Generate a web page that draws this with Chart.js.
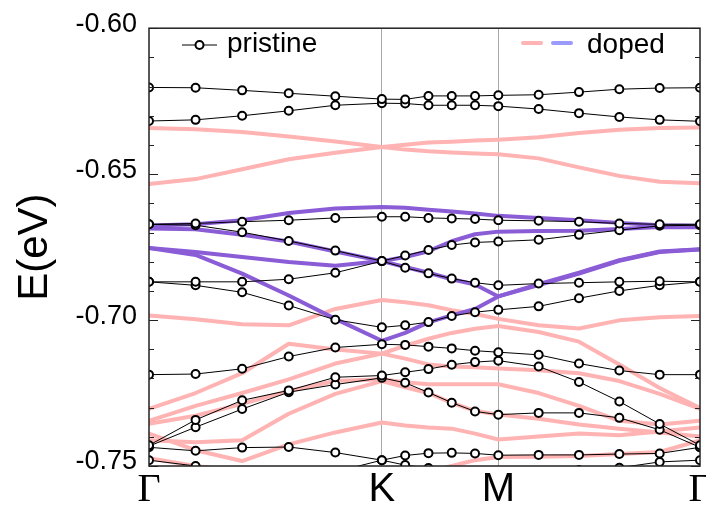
<!doctype html>
<html lang="en">
<head>
<meta charset="utf-8">
<title>Band structure: pristine vs doped</title>
<script src="https://cdn.jsdelivr.net/npm/chart.js@4.4.1/dist/chart.umd.min.js"></script>
<style>
    html, body { margin: 0; padding: 0; background: #fff; }
    .wrap { width: 706px; height: 510px; }
</style>
</head>
<body>
<div class="wrap"><canvas id="bands" width="706" height="510"></canvas></div>
<script>
    // k path Γ-K-M-Γ as path length (K = 4/3, M = 2, Γ = 2 + 2/√3)
    const kLabels = ['Γ', 'K', 'M', 'Γ'];
    const kTicks = [0, 1.3333, 2.0, 3.1547];
    const kPoints = [0, 0.2667, 0.5333, 0.8, 1.0667, 1.3333, 1.4667, 1.6, 1.7333, 1.8667, 2.0, 2.2309, 2.4619, 2.6928, 2.9238, 3.1547];

    // pristine bands (eV), one value per k point
    const pristine1 = [-0.6203, -0.6204, -0.6213, -0.6223, -0.6233, -0.6243, -0.6244, -0.6232, -0.6232, -0.6232, -0.6230, -0.6228, -0.6219, -0.6209, -0.6205, -0.6204];
    const pristine2 = [-0.6318, -0.6314, -0.6300, -0.6283, -0.6264, -0.6257, -0.6258, -0.6264, -0.6264, -0.6264, -0.6267, -0.6277, -0.6291, -0.6304, -0.6314, -0.6319];
    const pristine3 = [-0.6672, -0.6669, -0.6663, -0.6658, -0.6650, -0.6646, -0.6646, -0.6650, -0.6652, -0.6654, -0.6658, -0.6660, -0.6663, -0.6669, -0.6672, -0.6672];
    const pristine4 = [-0.6672, -0.6675, -0.6699, -0.6729, -0.6762, -0.6798, -0.6779, -0.6760, -0.6743, -0.6734, -0.6731, -0.6725, -0.6708, -0.6692, -0.6677, -0.6675];
    const pristine5 = [-0.6869, -0.6869, -0.6869, -0.6860, -0.6838, -0.6798, -0.6821, -0.6840, -0.6858, -0.6872, -0.6881, -0.6875, -0.6872, -0.6869, -0.6867, -0.6869];
    const pristine6 = [-0.6869, -0.6881, -0.6905, -0.6950, -0.6999, -0.7025, -0.7018, -0.7007, -0.6986, -0.6973, -0.6965, -0.6953, -0.6925, -0.6900, -0.6881, -0.6869];
    const pristine7 = [-0.7187, -0.7185, -0.7167, -0.7125, -0.7094, -0.7083, -0.7085, -0.7091, -0.7097, -0.7105, -0.7110, -0.7119, -0.7149, -0.7173, -0.7187, -0.7187];
    const pristine8 = [-0.7429, -0.7342, -0.7275, -0.7241, -0.7196, -0.7190, -0.7179, -0.7168, -0.7153, -0.7144, -0.7139, -0.7159, -0.7212, -0.7279, -0.7356, -0.7429];
    const pristine9 = [-0.7432, -0.7367, -0.7305, -0.7247, -0.7221, -0.7198, -0.7215, -0.7248, -0.7283, -0.7313, -0.7324, -0.7318, -0.7318, -0.7335, -0.7376, -0.7436];
    const pristine10 = [-0.7436, -0.7448, -0.7437, -0.7435, -0.7454, -0.7480, -0.7464, -0.7456, -0.7455, -0.7457, -0.7463, -0.7462, -0.7462, -0.7459, -0.7457, -0.7436];
    const pristine11 = [-0.7480, -0.7500, -0.7541, -0.7554, -0.7520, -0.7480, -0.7497, -0.7507, -0.7520, -0.7534, -0.7541, -0.7527, -0.7514, -0.7506, -0.7486, -0.7480];

    // doped bands, spin down (purple where they lie over the spin-up ones)
    const dopedDn1 = [-0.6676, -0.6672, -0.6658, -0.6633, -0.6618, -0.6613, -0.6615, -0.6622, -0.6628, -0.6635, -0.6643, -0.6650, -0.6658, -0.6667, -0.6675, -0.6677];
    const dopedDn2 = [-0.6686, -0.6689, -0.6708, -0.6731, -0.6765, -0.6798, -0.6784, -0.6764, -0.6730, -0.6706, -0.6697, -0.6695, -0.6694, -0.6688, -0.6681, -0.6682];
    const dopedDn3 = [-0.6753, -0.6767, -0.6784, -0.6801, -0.6814, -0.6798, -0.6818, -0.6838, -0.6860, -0.6878, -0.6919, -0.6877, -0.6838, -0.6795, -0.6765, -0.6757];
    const dopedDn4 = [-0.6753, -0.6777, -0.6841, -0.6916, -0.6996, -0.7071, -0.7044, -0.7008, -0.6984, -0.6962, -0.6919, -0.6880, -0.6841, -0.6797, -0.6767, -0.6758];

    // doped bands, spin up (pink)
    const dopedUp1 = [-0.6342, -0.6346, -0.6356, -0.6371, -0.6388, -0.6407, -0.6399, -0.6392, -0.6389, -0.6385, -0.6382, -0.6374, -0.6359, -0.6348, -0.6342, -0.6340];
    const dopedUp2 = [-0.6534, -0.6517, -0.6483, -0.6449, -0.6427, -0.6407, -0.6416, -0.6422, -0.6426, -0.6429, -0.6432, -0.6446, -0.6477, -0.6506, -0.6526, -0.6531];
    const dopedUp3 = [-0.6984, -0.6997, -0.7014, -0.7018, -0.6962, -0.6931, -0.6939, -0.6949, -0.6966, -0.6979, -0.6996, -0.7018, -0.7029, -0.7001, -0.6990, -0.6986];
    const dopedUp4 = [-0.7304, -0.7250, -0.7182, -0.7081, -0.7101, -0.7115, -0.7132, -0.7152, -0.7159, -0.7162, -0.7166, -0.7172, -0.7182, -0.7209, -0.7253, -0.7304];
    const dopedUp5 = [-0.7345, -0.7294, -0.7250, -0.7203, -0.7149, -0.7115, -0.7088, -0.7064, -0.7044, -0.7030, -0.7020, -0.7041, -0.7074, -0.7152, -0.7233, -0.7301];
    const dopedUp6 = [-0.7355, -0.7328, -0.7287, -0.7243, -0.7209, -0.7203, -0.7213, -0.7220, -0.7220, -0.7220, -0.7220, -0.7250, -0.7294, -0.7345, -0.7358, -0.7345];
    const dopedUp7 = [-0.7412, -0.7419, -0.7412, -0.7321, -0.7253, -0.7209, -0.7230, -0.7250, -0.7284, -0.7311, -0.7324, -0.7338, -0.7358, -0.7372, -0.7385, -0.7399];
    const dopedUp8 = [-0.7389, -0.7446, -0.7483, -0.7426, -0.7385, -0.7351, -0.7361, -0.7368, -0.7372, -0.7389, -0.7409, -0.7399, -0.7389, -0.7395, -0.7382, -0.7368];
    const dopedUp9 = [-0.7473, -0.7500, -0.7520, -0.7527, -0.7514, -0.7507, -0.7514, -0.7520, -0.7500, -0.7480, -0.7469, -0.7468, -0.7466, -0.7459, -0.7452, -0.7412];

    const pristineBands = [pristine1, pristine2, pristine3, pristine4, pristine5, pristine6, pristine7, pristine8, pristine9, pristine10, pristine11];
    const dnBands = [dopedDn1, dopedDn2, dopedDn3, dopedDn4];
    const upBands = [dopedUp1, dopedUp2, dopedUp3, dopedUp4, dopedUp5, dopedUp6, dopedUp7, dopedUp8, dopedUp9];

    const PINK = '#ffb3b3';
    const PURPLE = '#8a5cd6';
    const LEGEND_BLUE = '#9a9aff';

    function toPoints(band) {
        return band.map((e, i) => ({x: kPoints[i], y: e}));
    }

    const datasets = [];
    pristineBands.forEach(b => datasets.push({
        data: toPoints(b),
        showLine: true,
        borderColor: '#000',
        borderWidth: 1,
        pointRadius: 4,
        pointBorderWidth: 2,
        pointBorderColor: '#000',
        pointBackgroundColor: '#fff',
        clip: 0,
        order: 0
    }));
    dnBands.forEach(b => datasets.push({
        data: toPoints(b),
        showLine: true,
        borderColor: PURPLE,
        borderWidth: 4,
        pointRadius: 0,
        borderJoinStyle: 'round',
        borderCapStyle: 'round',
        clip: 0,
        order: 1
    }));
    upBands.forEach(b => datasets.push({
        data: toPoints(b),
        showLine: true,
        borderColor: PINK,
        borderWidth: 4,
        pointRadius: 0,
        borderJoinStyle: 'round',
        borderCapStyle: 'round',
        clip: 0,
        order: 2
    }));

    // frame, inward ticks and the legend
    const framePlugin = {
        id: 'frame',
        afterDraw(chart) {
            const {ctx, chartArea: a} = chart;
            const y = chart.scales.y;
            ctx.save();
            ctx.strokeStyle = '#222';
            ctx.lineWidth = 1;
            y.ticks.forEach(t => {
                const py = Math.round(y.getPixelForValue(t.value)) + 0.5;
                const len = Math.round(t.value * 100) % 5 === 0 ? 9 : 5;
                ctx.beginPath();
                ctx.moveTo(a.left, py); ctx.lineTo(a.left + len, py);
                ctx.moveTo(a.right, py); ctx.lineTo(a.right - len, py);
                ctx.stroke();
            });
            ctx.lineWidth = 1.5;
            ctx.strokeRect(a.left, a.top, a.right - a.left, a.bottom - a.top);

            // legend: pristine
            ctx.lineWidth = 1;
            ctx.strokeStyle = '#000';
            ctx.beginPath();
            ctx.moveTo(182, 45); ctx.lineTo(217, 45);
            ctx.stroke();
            ctx.beginPath();
            ctx.arc(199.5, 45, 4, 0, Math.PI * 2);
            ctx.fillStyle = '#fff';
            ctx.fill();
            ctx.lineWidth = 2;
            ctx.stroke();
            ctx.fillStyle = '#000';
            ctx.font = '28px "Liberation Sans", Arial, sans-serif';
            ctx.textBaseline = 'alphabetic';
            ctx.fillText('pristine', 227, 52);

            // legend: doped
            ctx.lineWidth = 4;
            ctx.lineCap = 'round';
            ctx.strokeStyle = PINK;
            ctx.beginPath();
            ctx.moveTo(523, 43); ctx.lineTo(541, 43);
            ctx.stroke();
            ctx.strokeStyle = LEGEND_BLUE;
            ctx.beginPath();
            ctx.moveTo(553, 43); ctx.lineTo(571, 43);
            ctx.stroke();
            ctx.fillText('doped', 587, 53);
            ctx.restore();
        }
    };

    new Chart(document.getElementById('bands').getContext('2d'), {
        type: 'scatter',
        data: {datasets: datasets},
        options: {
            responsive: false,
            animation: false,
            events: [],
            layout: {padding: {top: 22, right: 4, left: 0, bottom: 0}},
            plugins: {legend: {display: false}, tooltip: {enabled: false}},
            scales: {
                x: {
                    type: 'linear',
                    min: 0,
                    max: kTicks[3],
                    afterBuildTicks: s => { s.ticks = kTicks.map(v => ({value: v})); },
                    afterFit: s => { s.height = 44; s.paddingLeft = 0; s.paddingRight = 0; },
                    ticks: {
                        autoSkip: false,
                        maxRotation: 0,
                        padding: 0,
                        color: '#000',
                        callback: (v, i) => kLabels[i],
                        font: c => ({
                            family: (c.index === 1 || c.index === 2) ? '"Liberation Sans", Arial' : '"Liberation Serif", "Times New Roman"',
                            size: 40
                        })
                    },
                    grid: {
                        drawTicks: false,
                        lineWidth: 1,
                        color: c => (c.index === 1 || c.index === 2) ? '#a8a8a8' : 'rgba(0,0,0,0)'
                    },
                    border: {display: false}
                },
                y: {
                    min: -0.75,
                    max: -0.60,
                    afterFit: s => { s.width = 149; },
                    ticks: {
                        stepSize: 0.01,
                        autoSkip: false,
                        padding: 12,
                        labelOffset: -4,
                        color: '#000',
                        font: {family: '"Liberation Sans", Arial', size: 27},
                        callback: v => Math.round(v * 100) % 5 === 0 ? v.toFixed(2) : ''
                    },
                    grid: {drawOnChartArea: false, drawTicks: false},
                    border: {display: false},
                    title: {
                        display: true,
                        text: 'E(eV)',
                        color: '#000',
                        font: {family: '"Liberation Sans", Arial', size: 42},
                        padding: {top: 10, bottom: 0}
                    }
                }
            }
        },
        plugins: [framePlugin]
    });
</script>
</body>
</html>
